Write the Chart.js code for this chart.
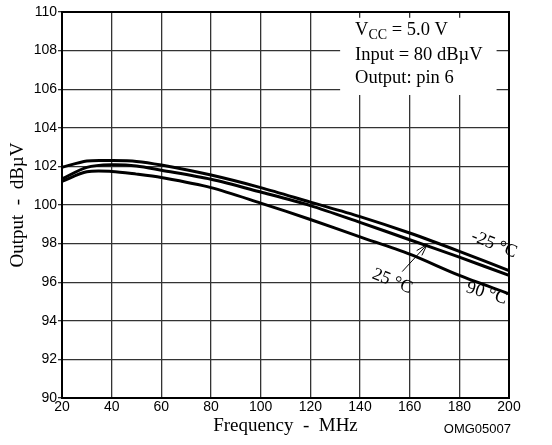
<!DOCTYPE html>
<html>
<head>
<meta charset="utf-8">
<script src="https://cdn.jsdelivr.net/npm/chart.js@4/dist/chart.umd.min.js"></script>
<style>
  html, body { margin: 0; padding: 0; background: #fff; }
  #wrap { width: 552px; height: 445px; }
</style>
</head>
<body>
<div id="wrap"><canvas id="myChart" width="552" height="445"></canvas></div>
<script>
const freqs = [20, 30, 40, 50, 60, 80, 100, 120, 140, 160, 180, 200]
const outMinus25 = [101.95, 102.28, 102.3, 102.26, 102.07, 101.55, 100.9, 100.15, 99.4, 98.55, 97.6, 96.6]
const out25 = [101.35, 101.95, 102.08, 102.02, 101.8, 101.33, 100.67, 99.97, 99.1, 98.2, 97.3, 96.35]
const out90 = [101.23, 101.72, 101.74, 101.6, 101.42, 100.9, 100.1, 99.25, 98.35, 97.45, 96.35, 95.4]
const xTicks = [20, 40, 60, 80, 100, 120, 140, 160, 180, 200]
const yTicks = [90, 92, 94, 96, 98, 100, 102, 104, 106, 108, 110]

const serif = "'Liberation Serif', 'Times New Roman', serif"
const sans = "'Liberation Sans', Arial, sans-serif"

const toPoints = (ys) => freqs.map((f, i) => ({ x: f, y: ys[i] }))

// labels on the curves, in data units
const curveLabels = [
    { text: '-25 °C', x: 194, y: 97.95, rot: 0.38 },
    { text: '25 °C', x: 153, y: 96.05, rot: 0.38 },
    { text: '90 °C', x: 191, y: 95.42, rot: 0.30 }
]

const notes = {
    id: 'notes',
    beforeDatasetsDraw(chart) {
        const { ctx, scales: { x, y } } = chart
        // white box behind the conditions text
        ctx.save()
        ctx.fillStyle = '#fff'
        const x0 = x.getPixelForValue(132), x1 = x.getPixelForValue(195)
        const y0 = y.getPixelForValue(109.7), y1 = y.getPixelForValue(105.7)
        ctx.fillRect(x0, y0, x1 - x0, y1 - y0)
        ctx.restore()
    },
    afterDatasetsDraw(chart) {
        const { ctx, chartArea: a, scales: { x, y } } = chart
        ctx.save()
        // frame
        ctx.strokeStyle = '#000'
        ctx.lineWidth = 2
        ctx.strokeRect(a.left, a.top, a.right - a.left, a.bottom - a.top)

        // conditions
        ctx.fillStyle = '#000'
        ctx.textBaseline = 'alphabetic'
        ctx.textAlign = 'left'
        const tx = x.getPixelForValue(138)
        ctx.font = '18.5px ' + serif
        let px = tx
        const b1 = y.getPixelForValue(108.83)
        ctx.fillText('V', px, b1)
        px += ctx.measureText('V').width
        ctx.font = '14px ' + serif
        ctx.fillText('CC', px, b1 + 4)
        px += ctx.measureText('CC').width
        ctx.font = '18.5px ' + serif
        ctx.fillText(' = 5.0 V', px, b1)
        ctx.fillText('Input = 80 dBµV', tx, y.getPixelForValue(107.53))
        ctx.fillText('Output: pin 6', tx, y.getPixelForValue(106.3))

        // curve labels
        ctx.font = '18px ' + serif
        ctx.textAlign = 'center'
        ctx.textBaseline = 'middle'
        curveLabels.forEach((l) => {
            ctx.save()
            ctx.translate(x.getPixelForValue(l.x), y.getPixelForValue(l.y))
            ctx.rotate(l.rot)
            ctx.fillText(l.text, 0, 0)
            ctx.restore()
        })

        // arrow to the 25 °C curve
        const ax0 = x.getPixelForValue(157), ax1 = x.getPixelForValue(167)
        const ay0 = y.getPixelForValue(96.55), ay1 = y.getPixelForValue(97.95)
        ctx.lineWidth = 1
        ctx.beginPath()
        ctx.moveTo(ax0, ay0)
        ctx.lineTo(ax1, ay1)
        const ang = Math.atan2(ay1 - ay0, ax1 - ax0)
        ctx.moveTo(ax1 - 12 * Math.cos(ang - 0.3), ay1 - 12 * Math.sin(ang - 0.3))
        ctx.lineTo(ax1, ay1)
        ctx.lineTo(ax1 - 12 * Math.cos(ang + 0.3), ay1 - 12 * Math.sin(ang + 0.3))
        ctx.stroke()

        // figure code
        ctx.textAlign = 'right'
        ctx.textBaseline = 'alphabetic'
        ctx.font = '13px ' + sans
        ctx.fillText('OMG05007', a.right + 2, 433)
        ctx.restore()
    }
}

const myChart = () => {
    const ctx = document.getElementById('myChart')
    const line = (data) => ({
        data: toPoints(data),
        borderColor: '#000',
        borderWidth: 3,
        pointRadius: 0,
        fill: false,
        tension: 0.3
    })
    new Chart(ctx, {
        type: 'line',
        data: {
            datasets: [line(outMinus25), line(out25), line(out90)]
        },
        options: {
            responsive: false,
            animation: false,
            events: [],
            layout: { padding: { top: 12, right: 43, left: 0, bottom: 0 } },
            plugins: { legend: { display: false }, tooltip: { enabled: false } },
            scales: {
                x: {
                    type: 'linear',
                    min: 20,
                    max: 200,
                    afterBuildTicks: (s) => { s.ticks = xTicks.map((v) => ({ value: v })) },
                    afterFit: (s) => { s.height = 47 },
                    grid: { color: '#333', lineWidth: 1.3, drawTicks: false },
                    border: { display: false },
                    ticks: { color: '#000', font: { family: sans, size: 14 }, padding: 1, maxRotation: 0 },
                    title: {
                        display: true,
                        text: 'Frequency  -  MHz',
                        color: '#000',
                        font: { family: serif, size: 19 },
                        padding: { top: 0, bottom: 8 }
                    }
                },
                y: {
                    min: 90,
                    max: 110,
                    afterBuildTicks: (s) => { s.ticks = yTicks.map((v) => ({ value: v })) },
                    afterFit: (s) => { s.width = 62 },
                    grid: { color: '#333', lineWidth: 1.3, drawTicks: true, tickLength: 4 },
                    border: { display: false },
                    ticks: { color: '#000', font: { family: sans, size: 14 }, padding: 1 },
                    title: {
                        display: true,
                        text: 'Output  -  dBµV',
                        color: '#000',
                        font: { family: serif, size: 19 },
                        padding: { top: 7, bottom: 0 }
                    }
                }
            }
        },
        plugins: [notes]
    })
}
myChart()
</script>
</body>
</html>
